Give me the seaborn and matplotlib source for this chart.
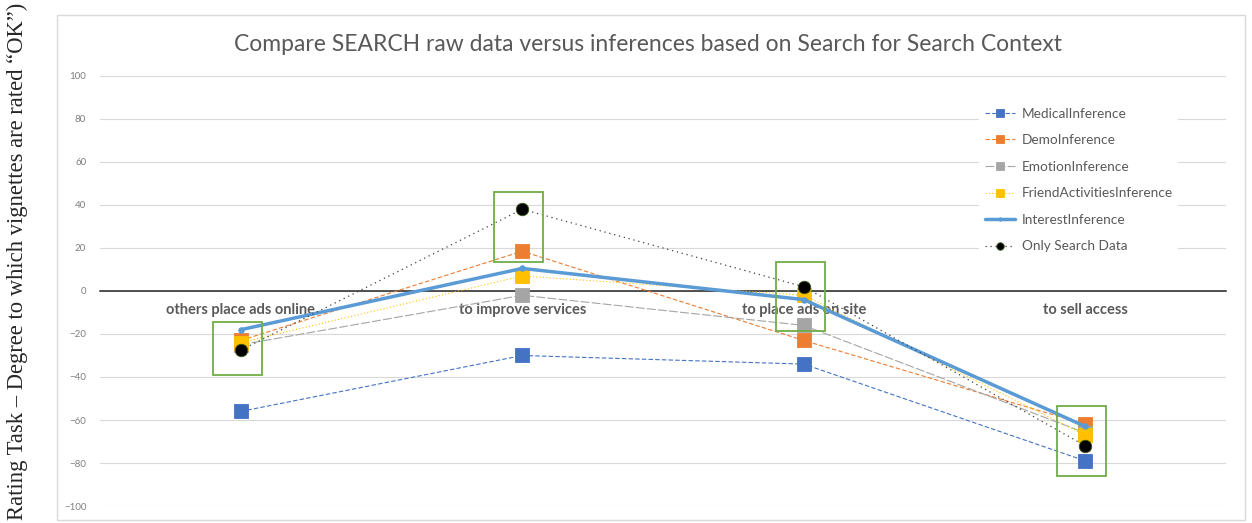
import matplotlib
matplotlib.use("Agg")
from matplotlib import pyplot as plt
from matplotlib.patches import Rectangle
import numpy as np
import pandas as pd
import seaborn as sb

# Chart data
categories = ["others place ads online", "to improve services", "to place ads on site", "to sell access"]
medical = [-56, -30, -34, -79]
demo = [-23, 18.5, -23, -62]
emotion = [-25, -2, -16, -66]
friend = [-24, 7, -2, -67]
interest = [-18, 10.5, -4, -63]
only_search = [-27.5, 38, 2, -72]

series_names = ["MedicalInference", "DemoInference", "EmotionInference",
                "FriendActivitiesInference", "InterestInference", "Only Search Data"]
series_values = [medical, demo, emotion, friend, interest, only_search]

# highlighted ranges (green boxes) per category: (low, high)
highlight = [(-39, -14.5), (13.5, 46), (-18.5, 13.5), (-86, -53.5)]

df = pd.DataFrame({"cat": np.tile(np.arange(len(categories)), len(series_names)),
                   "value": np.concatenate(series_values),
                   "series": np.repeat(series_names, len(categories))})

styles = {
    "MedicalInference": dict(color="#4472C4", lw=0.8, ls=(0, (4, 2)), marker="s", ms=9.5, mfc="#4472C4", mec="#4472C4"),
    "DemoInference": dict(color="#ED7D31", lw=0.8, ls=(0, (4, 2)), marker="s", ms=9.5, mfc="#ED7D31", mec="#ED7D31"),
    "EmotionInference": dict(color="#A5A5A5", lw=0.8, ls=(0, (8, 2)), marker="s", ms=9.5, mfc="#A5A5A5", mec="#A5A5A5"),
    "FriendActivitiesInference": dict(color="#FFC000", lw=0.8, ls=(0, (1, 2)), marker="s", ms=9.5, mfc="#FFC000", mec="#FFC000"),
    "InterestInference": dict(color="#5B9BD5", lw=2.5, ls="-", marker="o", ms=4, mfc="#5B9BD5", mec="#5B9BD5"),
    "Only Search Data": dict(color="#404040", lw=0.9, ls=(0, (1, 3)), marker="o", ms=9, mfc="black", mec="#3a5a10"),
}

sb.set_theme(style="white")
plt.rcParams["font.family"] = ["Lato", "DejaVu Sans"]

fig = plt.figure(figsize=(12.52, 5.23), dpi=100)
ax = fig.add_axes([0.0799, 0.0325, 0.8993, 0.8222])

for name in series_names:
    st = styles[name]
    sb.lineplot(data=df[df.series == name], x="cat", y="value", ax=ax, label=name,
                color=st["color"], linewidth=st["lw"], linestyle=st["ls"],
                marker=st["marker"], markersize=st["ms"], markerfacecolor=st["mfc"],
                markeredgecolor=st["mec"], markeredgewidth=0.6)

# green highlight boxes
for i, (lo, hi) in enumerate(highlight):
    ax.add_patch(Rectangle((i - 0.1, lo), 0.175, hi - lo, fill=False,
                           edgecolor="#70AD47", lw=1.3, zorder=5))

ax.set_xlim(-0.5, len(categories) - 0.5)
ax.set_ylim(-100, 100)
ax.set_yticks(np.arange(-100, 101, 20))
ax.yaxis.grid(True, color="#D9D9D9", lw=0.8)
ax.set_axisbelow(True)
for s in ["top", "right", "left"]:
    ax.spines[s].set_visible(False)
ax.spines["bottom"].set_position(("data", 0))
ax.spines["bottom"].set_color("#262626")
ax.spines["bottom"].set_linewidth(1.1)
ax.spines["bottom"].set_zorder(1)
ax.set_xticks(range(len(categories)))
ax.set_xticklabels(categories, fontsize=10.5, color="#595959", fontweight="bold")
ax.tick_params(axis="x", length=0, pad=9)
ax.tick_params(axis="y", length=0, pad=10, labelsize=7, labelcolor="#7f7f7f")
ax.set_xlabel("")
ax.set_ylabel("")

leg = ax.legend(loc="upper left", bbox_to_anchor=(0.775, 0.955), frameon=True,
                facecolor="white", edgecolor="none", framealpha=1, fontsize=9.8,
                labelspacing=1.07, handlelength=2.2, handletextpad=0.5, borderpad=0.4,
                markerscale=0.6)
for t in leg.get_texts():
    t.set_color("#595959")
leg.set_zorder(10)

fig.text(0.5175, 0.915, "Compare SEARCH raw data versus inferences based on Search for Search Context",
         ha="center", va="center", fontsize=16.5, color="#595959")

# chart frame
fig.add_artist(Rectangle((57 / 1252, 3 / 523), 1188 / 1252, 505 / 523, transform=fig.transFigure,
                         fill=False, edgecolor="#D9D9D9", lw=1))

fig.text(0.014, 0.5, "Rating Task \u2013 Degree to which vignettes are rated \u201cOK\u201d)",
         rotation=90, ha="center", va="center", fontsize=16.3, family=["Liberation Serif"])

fig.savefig("out.png", dpi=100)
